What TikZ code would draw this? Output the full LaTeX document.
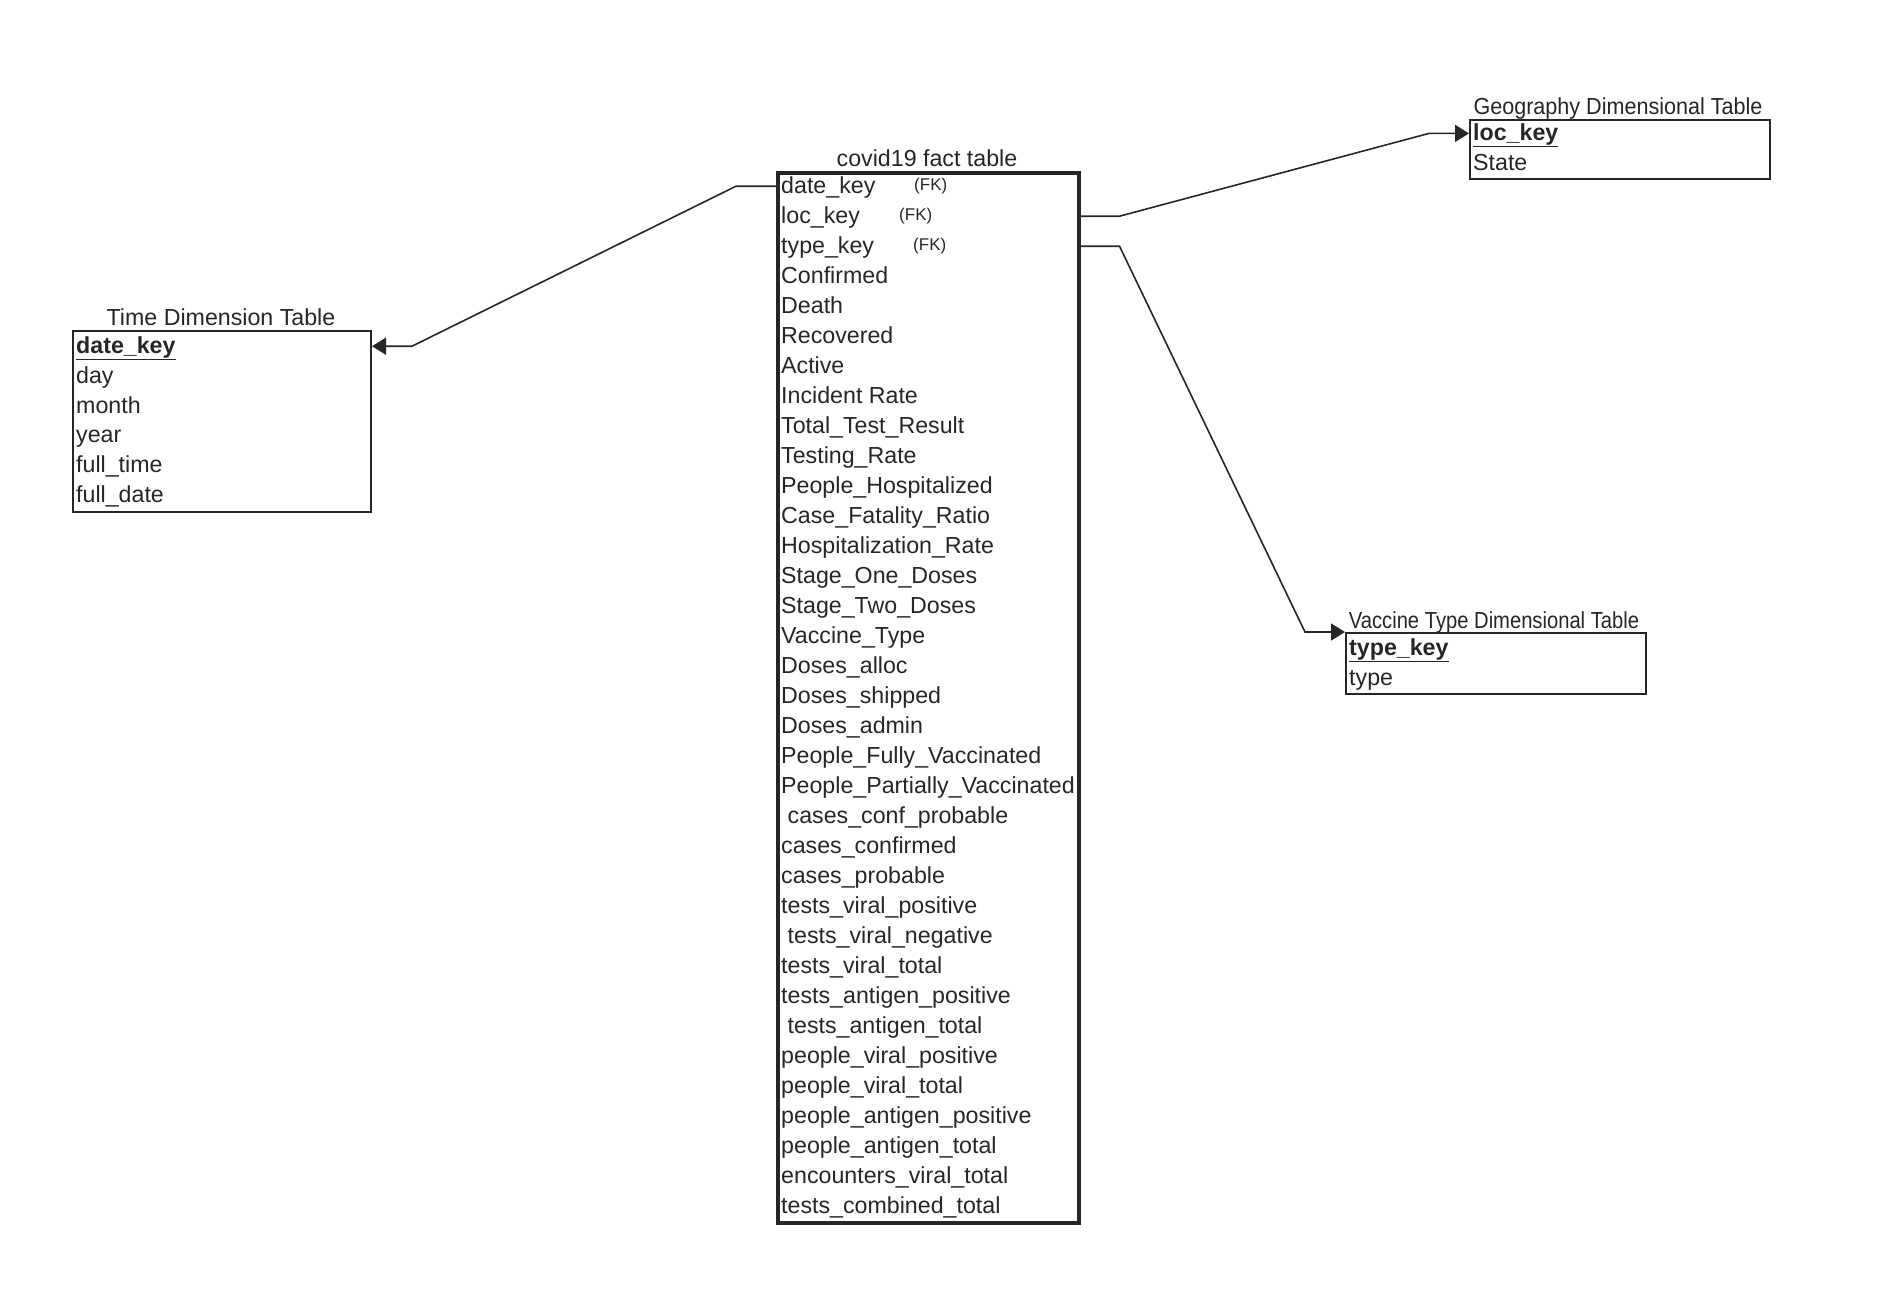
\documentclass[tikz,border=0pt]{standalone}
\usepackage{fontspec}
\setmainfont{Liberation Sans}
\usepackage{graphicx}
\usepackage{tikz}
\usetikzlibrary{arrows.meta,positioning,calc}
\newcommand\rowfont{\fontsize{23.2}{28}\selectfont}
\newcommand\fkfont{\fontsize{17}{20}\selectfont}
\tikzset{
  tbl/.style={rectangle, draw=black!85, line width=2pt, anchor=north west, inner sep=0pt},
  row/.style={anchor=west, inner sep=0pt, text height=18pt, text depth=4pt,
              font=\rowfont, text=black!85},
  fk/.style={anchor=west, inner sep=0pt, font=\fkfont, text=black!85},
  ttl/.style={anchor=base, inner sep=0pt, font=\rowfont, text=black!85},
  ar/.style={-{Triangle[length=14pt,width=17pt]}, line width=1.6pt, draw=black!85},
}

\begin{document}
\begin{tikzpicture}[x=1pt,y=-1pt]
\useasboundingbox (0,0) rectangle (1902,1310);
% fact table
\node[tbl, line width=3.5pt, minimum width=301pt, minimum height=1050pt] (fact) at (776,171) {};
\node[ttl] (facttl) at (927,166) {covid19 fact table};
\foreach \lbl [count=\i] in {date\_key, loc\_key, type\_key, Confirmed, Death, Recovered,
  Active, Incident Rate, Total\_Test\_Result, Testing\_Rate, People\_Hospitalized,
  Case\_Fatality\_Ratio, Hospitalization\_Rate, Stage\_One\_Doses, Stage\_Two\_Doses,
  Vaccine\_Type, Doses\_alloc, Doses\_shipped, Doses\_admin, People\_Fully\_Vaccinated,
  People\_Partially\_Vaccinated, \ cases\_conf\_probable, cases\_confirmed, cases\_probable,
  tests\_viral\_positive, \ tests\_viral\_negative, tests\_viral\_total,
  tests\_antigen\_positive, \ tests\_antigen\_total, people\_viral\_positive,
  people\_viral\_total, people\_antigen\_positive, people\_antigen\_total,
  encounters\_viral\_total, tests\_combined\_total} {
  \node[row] (f\i) at (781,{186.2+30*(\i-1)}) {\lbl};
}
\node[fk] (fk1) at (914,185.6) {(FK)};
\node[fk] (fk2) at (899,215.6) {(FK)};
\node[fk] (fk3) at (913,245.6) {(FK)};

% time dimension
\node[tbl, minimum width=298pt, minimum height=181pt] (time) at (72,330) {};
\node[ttl] (timettl) at (221,325) {Time Dimension Table};
\foreach \lbl [count=\i] in {\underline{\textbf{date\_key}}, day, month, year,
  full\_time, full\_date} {
  \node[row] (t\i) at (76,{346.2+29.9*(\i-1)}) {\lbl};
}

% geography
\node[tbl, minimum width=300pt, minimum height=59pt] (geo) at (1469,119) {};
\node[ttl] (geottl) at (1618,114) {\scalebox{0.93}[1]{Geography Dimensional Table}};
\node[row] (g1) at (1473,133.4) {\underline{\textbf{loc\_key}}};
\node[row] (g2) at (1473,163.8) {State};

% vaccine type
\node[tbl, minimum width=300pt, minimum height=61pt] (vac) at (1345,632) {};
\node[ttl] (vacttl) at (1494,628) {\scalebox{0.87}[1]{Vaccine Type Dimensional Table}};
\node[row] (v1) at (1349,648) {\underline{\textbf{type\_key}}};
\node[row] (v2) at (1349,678) {type};

% links
\draw[ar] (fact.west |- f1) -- ++(-40,0) -- ($(time.east |- t1)+(40,0)$) -- (time.east |- t1);
\draw[ar] (fact.east |- f2) -- ++(39,0) -- ($(geo.west |- g1)+(-40,0)$) -- (geo.west |- g1);
\draw[ar] (fact.east |- f3) -- ++(39,0) -- ($(vac.north west)+(-40,0)$) -- (vac.north west);
\end{tikzpicture}
\end{document}
